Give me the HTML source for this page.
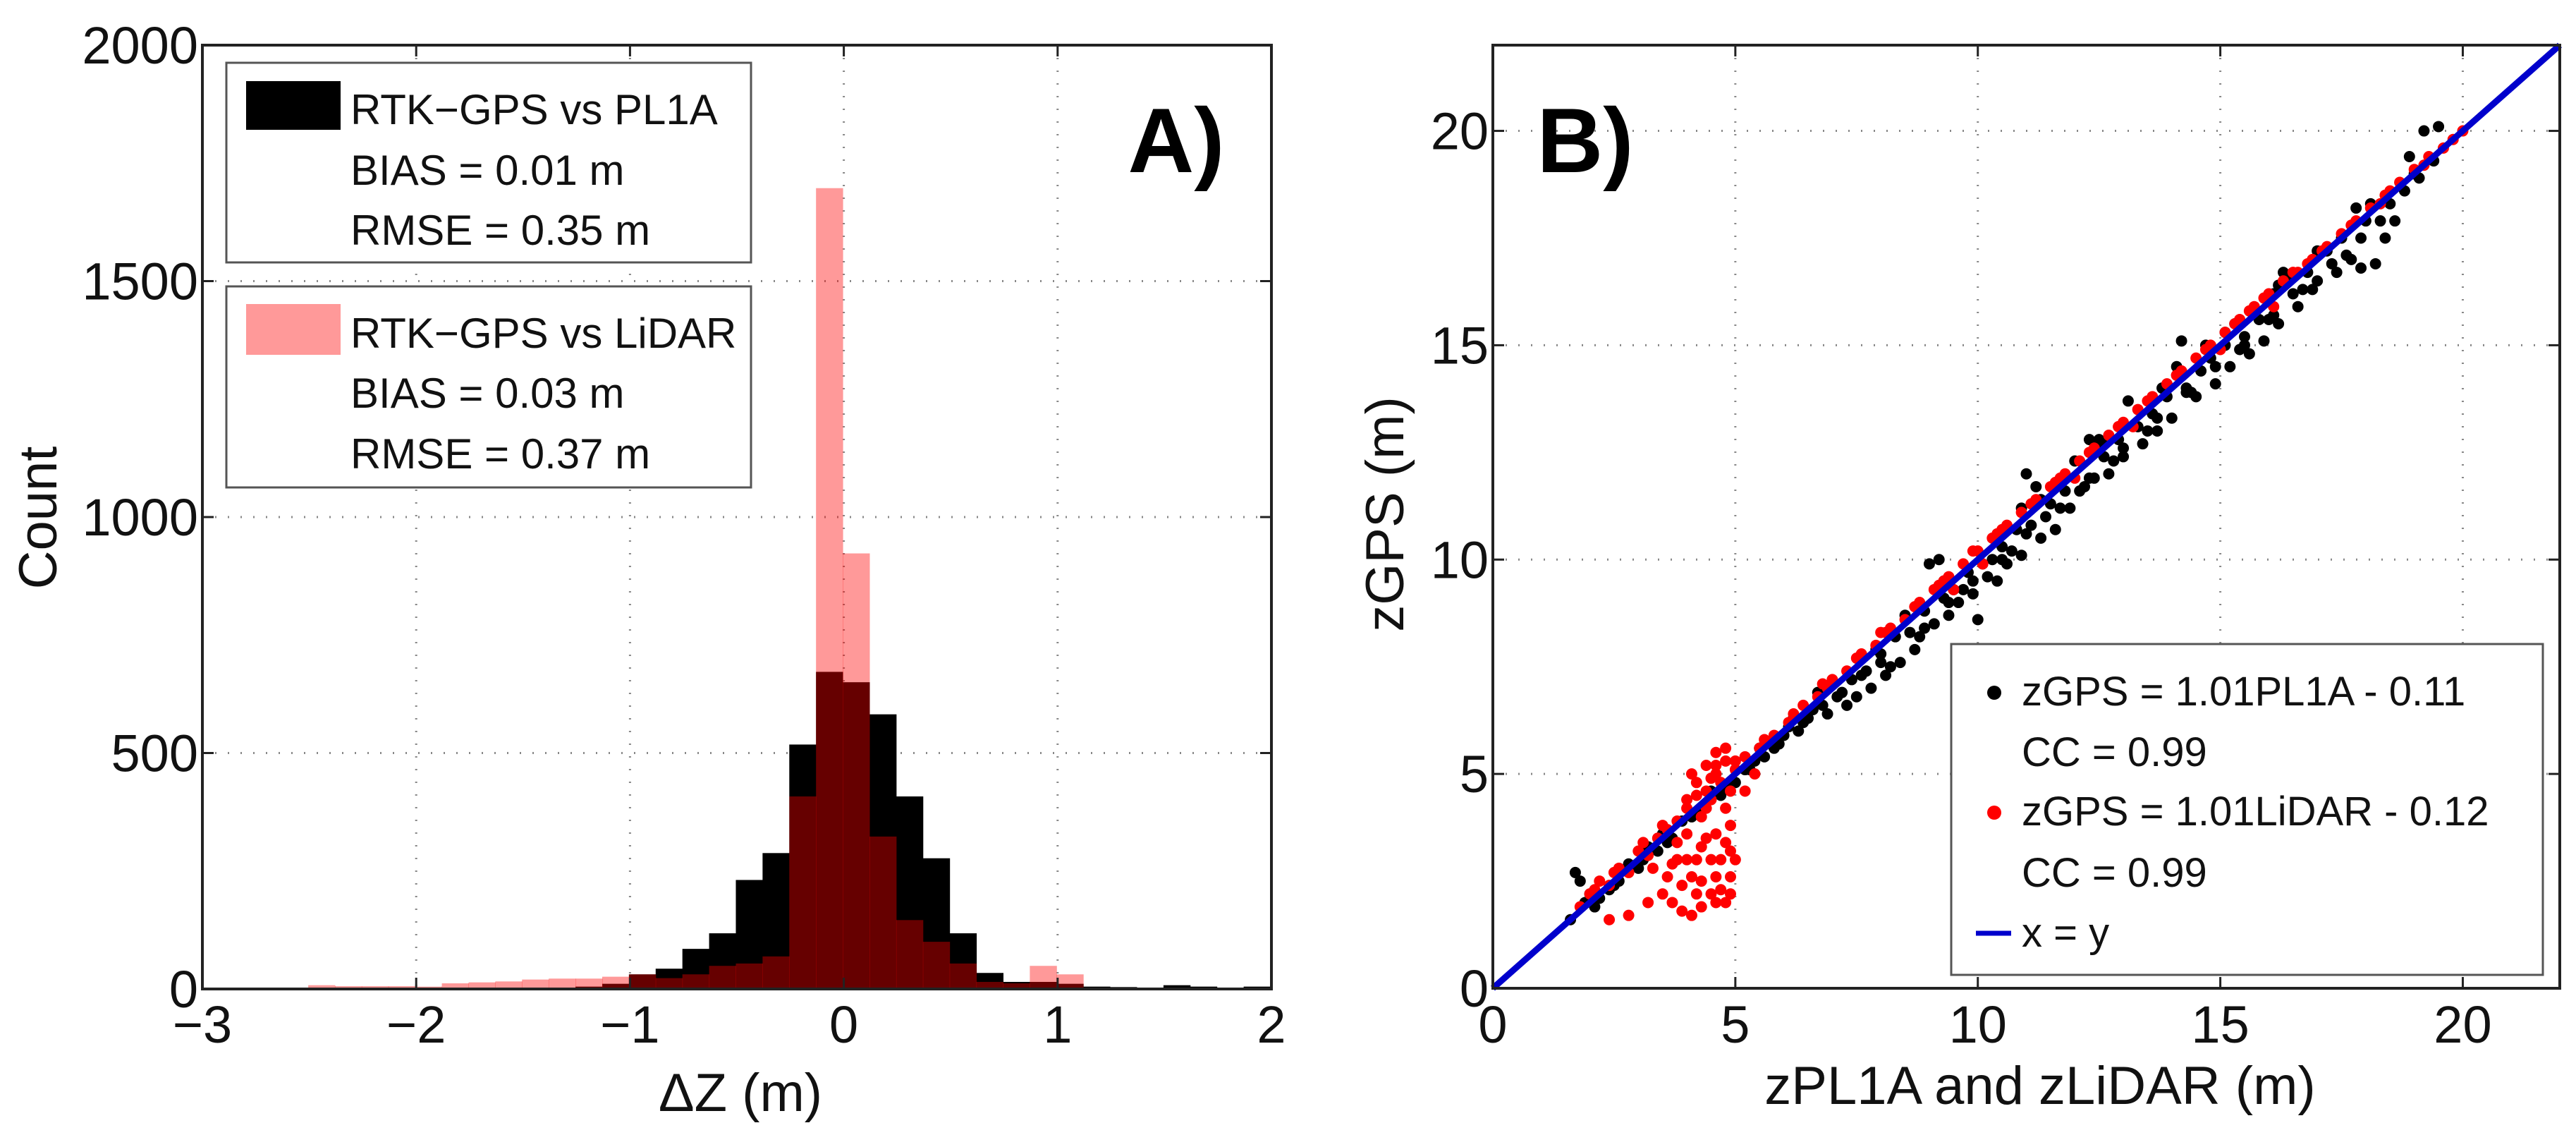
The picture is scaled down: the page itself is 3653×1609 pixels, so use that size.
<!DOCTYPE html>
<html><head><meta charset="utf-8"><style>
html,body{margin:0;padding:0;background:#fff;}
svg{display:block;font-family:"Liberation Sans",sans-serif;}
</style></head><body>
<svg id="fig" width="3653" height="1609" viewBox="0 0 3653 1609" xmlns="http://www.w3.org/2000/svg">
<rect width="3653" height="1609" fill="#fff"/>
<g id="gA"></g>
<g id="gB"></g>
</svg>
<script>
// ---------- Panel A data ----------
const binStart = -2.505;
const binWidth = 0.125;
const pl1aCounts = [0,0,0,0,0,0,0,0,0,0,5,11,31,43,85,118,231,288,518,672,650,582,408,277,118,34,15,15,11,5,4,3,8,5,3,5];
const lidarCounts = [8,6,6,6,5,12,14,16,20,22,22,26,31,23,31,49,54,69,408,1697,923,323,146,100,54,15,12,49,31,0,0,0,0,0,0,0];
const aXTicks = [-3,-2,-1,0,1,2];
const aYTicks = [0,500,1000,1500,2000];
// ---------- Panel B data ----------
const pl1aPoints = [[1.6,1.6],[1.7,2.7],[1.8,2.5],[1.9,2.0],[2.0,2.2],[2.2,2.1],[2.4,2.3],[2.6,2.5],[2.8,2.9],[3.0,2.8],[3.2,3.3],[3.4,3.2],[3.5,3.6],[3.7,3.5],[3.9,3.9],[4.1,4.0],[4.3,4.2],[4.5,4.6],[4.8,4.7],[5.0,4.8],[5.2,5.1],[5.4,5.3],[5.6,5.4],[5.8,5.6],[6.0,5.9],[6.2,6.3],[6.4,6.2],[6.6,6.5],[6.8,6.6],[7.0,7.1],[7.2,6.9],[7.4,7.2],[7.5,6.8],[7.7,7.4],[7.8,7.0],[8.0,7.8],[8.1,7.3],[8.3,8.2],[8.4,7.6],[8.6,8.3],[8.7,7.9],[8.9,8.8],[9.0,9.9],[9.1,8.5],[9.2,10.0],[9.3,9.1],[9.4,8.7],[9.5,9.3],[9.6,9.0],[9.8,9.7],[9.9,9.2],[10.0,8.6],[10.1,9.9],[10.3,10.0],[10.4,9.5],[10.5,10.3],[10.6,9.9],[10.8,10.7],[10.9,10.1],[11.0,12.0],[11.1,10.8],[11.2,11.7],[11.3,10.5],[11.5,11.3],[11.6,10.7],[11.8,11.6],[11.9,11.2],[12.0,12.3],[12.2,11.7],[12.3,12.8],[12.4,11.9],[12.6,12.4],[12.7,12.0],[12.9,12.8],[13.0,12.4],[13.1,13.7],[13.3,13.1],[13.4,12.7],[13.6,13.4],[13.7,13.0],[13.9,13.8],[14.0,13.3],[14.1,14.5],[14.2,15.1],[14.3,14.0],[14.5,13.8],[14.6,14.4],[14.8,14.7],[14.9,14.1],[15.1,15.0],[15.2,14.5],[15.3,15.5],[15.5,15.2],[15.6,14.8],[15.8,15.6],[15.9,15.1],[16.1,16.2],[16.2,15.5],[16.3,16.7],[16.5,16.2],[16.6,15.9],[16.8,16.7],[17.0,16.5],[17.2,17.2],[17.4,16.7],[17.5,17.5],[17.7,17.0],[17.8,18.2],[17.9,16.8],[18.0,17.9],[18.2,16.9],[18.4,17.5],[18.5,18.3],[18.6,17.9],[18.8,18.6],[18.9,19.4],[19.1,18.9],[19.2,20.0],[19.4,19.3],[19.5,20.1],[6.3,6.0],[6.9,6.4],[7.3,6.6],[8.2,7.5],[8.8,8.2],[9.7,9.3],[10.2,9.6],[10.7,10.2],[11.4,11.0],[12.1,11.6],[12.8,12.3],[13.5,13.0],[14.4,13.9],[15.4,14.9],[16.0,15.6],[16.9,16.3],[17.6,17.1],[5.5,5.6],[6.7,6.9],[8.5,8.7],[10.9,11.2],[12.5,12.8],[14.7,15.0],[16.4,16.6],[5.9,5.7],[6.5,6.3],[7.1,6.8],[7.6,7.3],[8.0,7.6],[8.9,8.4],[9.4,9.0],[9.9,9.5],[10.5,10.0],[11.0,10.6],[11.7,11.2],[12.3,11.9],[13.0,12.6],[13.7,13.3],[14.3,13.9],[14.9,14.5],[15.5,15.0],[16.1,15.7],[16.7,16.3],[17.3,16.9],[17.9,17.5],[18.3,17.9],[6.1,6.1],[7.9,7.9],[9.3,9.5],[11.3,11.4],[12.6,12.7],[13.8,14.0],[15.1,15.3],[16.2,16.4],[17.0,17.2],[18.1,18.3],[3.1,3.0],[3.6,3.4],[4.2,4.1],[4.7,4.5],[5.3,5.1],[2.5,2.4],[2.1,1.9],[19.0,19.0]];
const lidarPoints = [[1.8,1.9],[2.0,2.2],[2.2,2.5],[2.4,2.4],[2.6,2.8],[2.8,2.7],[3.0,3.2],[3.2,3.1],[3.4,3.5],[3.6,3.7],[3.8,3.9],[4.0,4.2],[4.2,4.5],[4.4,4.6],[4.6,5.0],[4.8,5.3],[5.0,5.1],[5.2,5.4],[5.5,5.6],[5.8,5.9],[6.1,6.2],[6.4,6.6],[6.7,6.8],[7.0,7.2],[7.3,7.4],[7.6,7.8],[7.9,8.0],[8.2,8.4],[8.5,8.6],[8.8,9.0],[9.1,9.3],[9.4,9.6],[9.7,9.9],[10.0,10.2],[10.3,10.5],[10.6,10.8],[10.9,11.1],[11.2,11.4],[11.5,11.7],[11.8,12.0],[12.1,12.3],[12.4,12.6],[12.7,12.9],[13.0,13.2],[13.3,13.5],[13.6,13.8],[13.9,14.1],[14.2,14.4],[14.5,14.7],[14.8,15.0],[15.1,15.3],[15.4,15.6],[15.7,15.9],[16.0,16.2],[16.3,16.5],[16.6,16.7],[16.9,17.0],[17.2,17.3],[17.5,17.6],[17.8,17.9],[18.1,18.2],[18.4,18.5],[18.7,18.8],[19.0,19.1],[19.3,19.4],[19.6,19.6],[20.0,20.0],[9.5,9.3],[12.0,11.9],[15.0,14.9],[3.5,2.2],[3.7,2.0],[3.9,1.8],[4.1,1.7],[4.3,1.9],[4.5,2.2],[4.6,2.6],[4.7,3.0],[4.8,3.4],[4.9,3.8],[4.2,3.0],[4.4,3.5],[4.0,3.6],[4.3,4.0],[4.5,4.4],[4.7,4.8],[4.4,5.2],[4.6,5.5],[4.8,5.6],[5.0,5.3],[4.2,4.8],[4.1,5.0],[4.3,2.5],[4.5,3.0],[3.8,3.0],[2.4,1.6],[2.8,1.7],[3.2,2.0],[3.3,2.8],[5.2,4.6],[5.4,5.0],[4.9,2.2],[4.8,2.0],[6.9,7.0],[8.1,8.3],[9.2,9.4],[10.4,10.6],[11.6,11.8],[12.9,13.1],[14.1,14.3],[15.6,15.8],[16.8,16.9],[18.3,18.3],[3.6,2.6],[3.9,2.4],[4.2,2.2],[4.6,2.0],[4.9,2.6],[5.0,3.0],[4.9,3.2],[4.6,3.6],[4.3,3.3],[4.0,3.0],[3.7,2.9],[4.4,4.2],[4.8,4.2],[4.9,4.6],[4.6,5.2],[4.5,4.9],[4.0,4.4],[3.8,3.4],[4.1,2.6],[4.7,2.3],[2.1,2.3],[2.5,2.7],[3.1,3.4],[3.5,3.8],[5.6,5.8],[6.2,6.4],[6.8,7.1],[7.5,7.7],[8.0,8.3],[8.7,8.9],[9.3,9.5],[9.9,10.2],[10.5,10.7],[11.1,11.3],[11.7,11.9],[12.3,12.5],[12.9,13.1],[13.5,13.7],[14.1,14.3],[14.7,14.9],[15.3,15.5],[15.9,16.1],[16.5,16.7],[17.1,17.2],[17.7,17.8],[18.5,18.6],[19.2,19.2],[19.8,19.8],[10.1,9.9],[13.2,13.1],[16.1,15.9]];
const bTicks = [0,5,10,15,20];

const NS = "http://www.w3.org/2000/svg";
function mk(parent, tag, attrs, text){
  const e = document.createElementNS(NS, tag);
  for (const k in attrs) e.setAttribute(k, attrs[k]);
  if (text !== undefined) e.textContent = text;
  parent.appendChild(e);
  return e;
}

// ---------- Panel A ----------
const gA = document.getElementById('gA');
const A = {l:287, r:1803, t:64, b:1402, x0:-3, x1:2, y0:0, y1:2000};
const axA = v => A.l + (v - A.x0) / (A.x1 - A.x0) * (A.r - A.l);
const ayA = v => A.b - (v - A.y0) / (A.y1 - A.y0) * (A.b - A.t);

aXTicks.forEach(v => {
  if (v > A.x0 && v < A.x1) {
    const gl = mk(gA, 'line', {x1:axA(v), x2:axA(v), y1:A.t, y2:A.b, stroke:'#888', 'stroke-width':3, 'stroke-dasharray':'2 16'});
    
    
  }
});
aYTicks.forEach(v => {
  if (v > A.y0 && v < A.y1) {
    const gl = mk(gA, 'line', {x1:A.l, x2:A.r, y1:ayA(v), y2:ayA(v), stroke:'#888', 'stroke-width':3, 'stroke-dasharray':'2 16'});
    
    
  }
});

pl1aCounts.forEach((c, i) => {
  if (c <= 0) return;
  const x0 = axA(binStart + i * binWidth), x1 = axA(binStart + (i + 1) * binWidth);
  const r = mk(gA, 'rect', {x:x0, y:ayA(c), width:x1 - x0 + 0.5, height:ayA(0) - ayA(c), fill:'#000'});
  
  
});
lidarCounts.forEach((c, i) => {
  if (c <= 0) return;
  const x0 = axA(binStart + i * binWidth), x1 = axA(binStart + (i + 1) * binWidth);
  const r = mk(gA, 'rect', {x:x0, y:ayA(c), width:x1 - x0 + 0.5, height:ayA(0) - ayA(c), fill:'#ff0000', 'fill-opacity':0.4});
  
  
});

const frA = mk(gA, 'rect', {x:A.l, y:A.t, width:A.r - A.l, height:A.b - A.t, fill:'none', stroke:'#222', 'stroke-width':4});



aXTicks.forEach(v => {
  const x = axA(v);
  mk(gA, 'line', {x1:x, x2:x, y1:A.b, y2:A.b - 16, stroke:'#222', 'stroke-width':3});
  mk(gA, 'line', {x1:x, x2:x, y1:A.t, y2:A.t + 16, stroke:'#222', 'stroke-width':3});
  const t = mk(gA, 'text', {x:x, y:1478, 'font-size':74, 'text-anchor':'middle', fill:'#111'}, v < 0 ? '\u2212' + Math.abs(v) : String(v));
  
  
});
aYTicks.forEach(v => {
  const y = ayA(v);
  mk(gA, 'line', {x1:A.l, x2:A.l + 16, y1:y, y2:y, stroke:'#222', 'stroke-width':3});
  mk(gA, 'line', {x1:A.r, x2:A.r - 16, y1:y, y2:y, stroke:'#222', 'stroke-width':3});
  const t = mk(gA, 'text', {x:A.l - 6, y:y + 26, 'font-size':74, 'text-anchor':'end', fill:'#111'}, String(v));
  
  
});
</script>
<script>
(function(){
const gA = document.getElementById('gA');
function T(attrs, text, name){
  const e = document.createElementNS("http://www.w3.org/2000/svg", 'text');
  for (const k in attrs) e.setAttribute(k, attrs[k]);
  e.textContent = text;
  
  
  gA.appendChild(e);
}
T({x:1050, y:1575, 'font-size':76, 'text-anchor':'middle', fill:'#111'}, '\u0394Z (m)', 'a-x-axis-title');
T({x:0, y:0, 'font-size':76, 'text-anchor':'middle', fill:'#111', transform:'translate(80,734) rotate(-90)'}, 'Count', 'a-y-axis-title');
T({x:1668, y:244, 'font-size':130, 'font-weight':'bold', 'text-anchor':'middle', fill:'#000'}, 'A)', 'panel-a-label');
})();
</script>
<script>
(function(){
const NS="http://www.w3.org/2000/svg";
const gA=document.getElementById('gA');
const lg1=document.createElementNS(NS,'g');


gA.appendChild(lg1);
lg1.innerHTML='<rect x="321" y="89" width="744" height="283" fill="#fff" stroke="#555" stroke-width="3"/>'+
'<rect x="349" y="115" width="134" height="69" fill="#000"/>'+
'<text x="497" y="176" font-size="60" fill="#111">RTK\u2212GPS vs PL1A</text>'+
'<text x="497" y="262" font-size="60" fill="#111">BIAS = 0.01 m</text>'+
'<text x="497" y="347" font-size="60" fill="#111">RMSE = 0.35 m</text>';
const lg2=document.createElementNS(NS,'g');


gA.appendChild(lg2);
lg2.innerHTML='<rect x="321" y="406" width="744" height="285" fill="#fff" stroke="#555" stroke-width="3"/>'+
'<rect x="349" y="431" width="134" height="72" fill="#ff9999"/>'+
'<text x="497" y="493" font-size="60" fill="#111">RTK\u2212GPS vs LiDAR</text>'+
'<text x="497" y="578" font-size="60" fill="#111">BIAS = 0.03 m</text>'+
'<text x="497" y="664" font-size="60" fill="#111">RMSE = 0.37 m</text>';
})();
</script>
<script>
// ---------- Panel B ----------
const gB = document.getElementById('gB');
const B = {l:2117, r:3630, t:64, b:1401, v0:0, v1:22};
const bx = v => B.l + (v - B.v0) / (B.v1 - B.v0) * (B.r - B.l);
const by = v => B.b - (v - B.v0) / (B.v1 - B.v0) * (B.b - B.t);

bTicks.forEach(v => {
  if (v > 0) {
    const g1 = mk(gB, 'line', {x1:bx(v), x2:bx(v), y1:B.t, y2:B.b, stroke:'#888', 'stroke-width':3, 'stroke-dasharray':'2 16'});
    
    
    const g2 = mk(gB, 'line', {x1:B.l, x2:B.r, y1:by(v), y2:by(v), stroke:'#888', 'stroke-width':3, 'stroke-dasharray':'2 16'});
    
    
  }
});

pl1aPoints.forEach(p => {
  const c = mk(gB, 'circle', {cx:bx(p[0]), cy:by(p[1]), r:8, fill:'#000'});
  
  
});
lidarPoints.forEach(p => {
  const c = mk(gB, 'circle', {cx:bx(p[0]), cy:by(p[1]), r:8, fill:'#ff0000'});
  
  
});
const ln = mk(gB, 'line', {x1:bx(0), y1:by(0), x2:bx(22), y2:by(22), stroke:'#0000cc', 'stroke-width':9});



const frB = mk(gB, 'rect', {x:B.l, y:B.t, width:B.r - B.l, height:B.b - B.t, fill:'none', stroke:'#222', 'stroke-width':4});



bTicks.forEach(v => {
  mk(gB, 'line', {x1:bx(v), x2:bx(v), y1:B.b, y2:B.b - 16, stroke:'#222', 'stroke-width':3});
  mk(gB, 'line', {x1:bx(v), x2:bx(v), y1:B.t, y2:B.t + 16, stroke:'#222', 'stroke-width':3});
  mk(gB, 'line', {x1:B.l, x2:B.l + 16, y1:by(v), y2:by(v), stroke:'#222', 'stroke-width':3});
  mk(gB, 'line', {x1:B.r, x2:B.r - 16, y1:by(v), y2:by(v), stroke:'#222', 'stroke-width':3});
  const tx = mk(gB, 'text', {x:bx(v), y:1478, 'font-size':74, 'text-anchor':'middle', fill:'#111'}, String(v));
  
  
  const ty = mk(gB, 'text', {x:B.l - 6, y:by(v) + 26, 'font-size':74, 'text-anchor':'end', fill:'#111'}, String(v));
  
  
});

const xt = mk(gB, 'text', {x:2893, y:1565, 'font-size':76, 'text-anchor':'middle', fill:'#111'}, 'zPL1A and zLiDAR (m)');


const yt = mk(gB, 'text', {x:0, y:0, 'font-size':76, 'text-anchor':'middle', fill:'#111', transform:'translate(1990,729) rotate(-90)'}, 'zGPS (m)');


const pl = mk(gB, 'text', {x:2248, y:244, 'font-size':130, 'font-weight':'bold', 'text-anchor':'middle', fill:'#000'}, 'B)');



const lgB = mk(gB, 'g', {});


lgB.innerHTML = '<rect x="2767" y="913" width="839" height="469" fill="#fff" stroke="#555" stroke-width="3"/>' +
'<circle cx="2828" cy="982" r="10" fill="#000"/>' +
'<text x="2867" y="1000" font-size="58" fill="#111">zGPS = 1.01PL1A - 0.11</text>' +
'<text x="2867" y="1086" font-size="58" fill="#111">CC = 0.99</text>' +
'<circle cx="2828" cy="1152" r="10" fill="#ff0000"/>' +
'<text x="2867" y="1170" font-size="58" fill="#111">zGPS = 1.01LiDAR - 0.12</text>' +
'<text x="2867" y="1257" font-size="58" fill="#111">CC = 0.99</text>' +
'<line x1="2802" y1="1323" x2="2852" y2="1323" stroke="#0000cc" stroke-width="7"/>' +
'<text x="2867" y="1342" font-size="58" fill="#111">x = y</text>';
</script>
</body></html>
